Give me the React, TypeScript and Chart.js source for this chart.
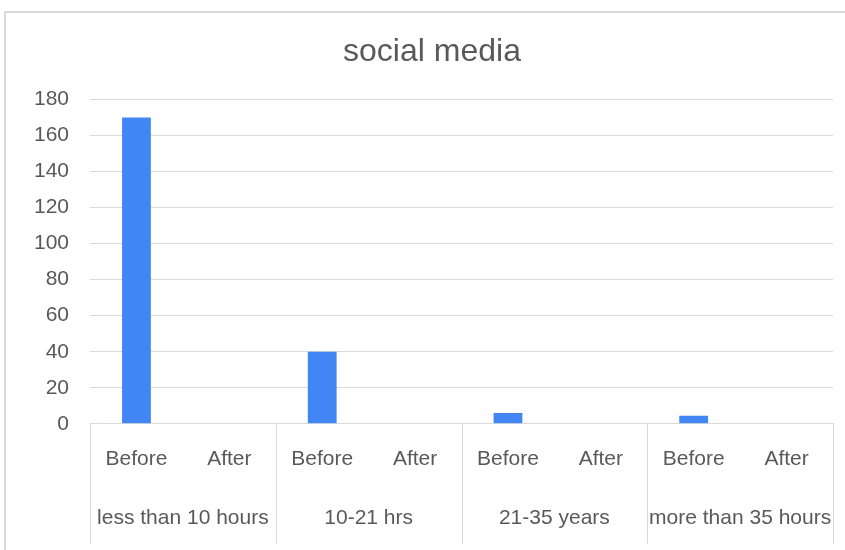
import React, { useEffect, useRef } from "react";
import { Chart, registerables } from "chart.js";

Chart.register(...registerables);

const subLabels = ["Before", "After", "Before", "After", "Before", "After", "Before", "After"];
const groupLabels = ["less than 10 hours", "10-21 hrs", "21-35 years", "more than 35 hours"];
const values = [170, 0, 40, 0, 6, 0, 4.5, 0];
const yTicks = [0, 20, 40, 60, 80, 100, 120, 140, 160, 180];

const FONT = "'Liberation Sans', Arial, sans-serif";
const TEXT = "#595959";
const GRID = "#d9d9d9";

const groupPlugin = {
  id: "groupAxis",
  afterDraw(chart: any) {
    const x = chart.scales.x;
    const area = chart.chartArea;
    const ctx = chart.ctx;
    const per = subLabels.length / groupLabels.length;
    const bounds: number[] = [];
    for (let g = 0; g <= groupLabels.length; g++) {
      if (g === 0) bounds.push(area.left);
      else if (g === groupLabels.length) bounds.push(area.right);
      else bounds.push((x.getPixelForValue(g * per - 1) + x.getPixelForValue(g * per)) / 2);
    }
    const top = area.bottom;
    const lineBottom = area.bottom + 120;
    const labelY = area.bottom + 94;
    ctx.save();
    ctx.strokeStyle = GRID;
    ctx.lineWidth = 1;
    bounds.forEach((b) => {
      const px = Math.round(b) + 0.5;
      ctx.beginPath();
      ctx.moveTo(px, top);
      ctx.lineTo(px, lineBottom);
      ctx.stroke();
    });
    ctx.fillStyle = TEXT;
    ctx.font = `21px ${FONT}`;
    ctx.textAlign = "center";
    ctx.textBaseline = "middle";
    groupLabels.forEach((lab, i) => {
      ctx.fillText(lab, (bounds[i] + bounds[i + 1]) / 2, labelY);
    });
    ctx.restore();
  },
};

export default function App() {
  const ref = useRef<HTMLCanvasElement | null>(null);
  useEffect(() => {
    if (!ref.current) return;
    const chart = new Chart(ref.current, {
      type: "bar",
      data: {
        labels: subLabels,
        datasets: [
          {
            data: values,
            backgroundColor: "#4285F4",
            borderWidth: 0,
            barPercentage: 0.31,
            categoryPercentage: 1,
          },
        ],
      },
      options: {
        animation: false,
        responsive: true,
        maintainAspectRatio: false,
        layout: { padding: { left: 7, right: 7, top: 0, bottom: 59 } },
        plugins: {
          legend: { display: false },
          tooltip: { enabled: false },
          title: {
            display: true,
            text: "social media",
            color: TEXT,
            font: { family: FONT, size: 32, weight: "normal" },
            padding: { top: 20, bottom: 28 },
          },
        },
        scales: {
          x: {
            grid: { display: false, drawTicks: false },
            border: { display: true, color: GRID, width: 1 },
            ticks: {
              color: TEXT,
              font: { family: FONT, size: 21 },
              padding: 23,
              maxRotation: 0,
              autoSkip: false,
            },
          },
          y: {
            min: 0,
            max: 180,
            afterBuildTicks: (axis: any) => {
              axis.ticks = yTicks.map((v) => ({ value: v }));
            },
            grid: { color: GRID, lineWidth: 1, drawTicks: false },
            border: { display: false },
            ticks: {
              color: TEXT,
              font: { family: FONT, size: 21 },
              padding: 21,
            },
          },
          yRight: {
            position: "right",
            display: true,
            grid: { display: false, drawTicks: false },
            border: { display: false },
            ticks: { display: false },
            afterFit: (s: any) => {
              s.width = 18;
            },
          },
        },
      },
      plugins: [groupPlugin],
    });
    return () => chart.destroy();
  }, []);

  return (
    <div
      style={{
        position: "fixed",
        left: 0,
        top: 0,
        width: 845,
        height: 550,
        overflow: "hidden",
        background: "#fff",
      }}
    >
      <div
        style={{
          position: "absolute",
          left: 4,
          top: 11,
          width: 856,
          height: 545,
          border: `2px solid ${GRID}`,
          boxSizing: "border-box",
        }}
      >
        <canvas ref={ref} />
      </div>
    </div>
  );
}
